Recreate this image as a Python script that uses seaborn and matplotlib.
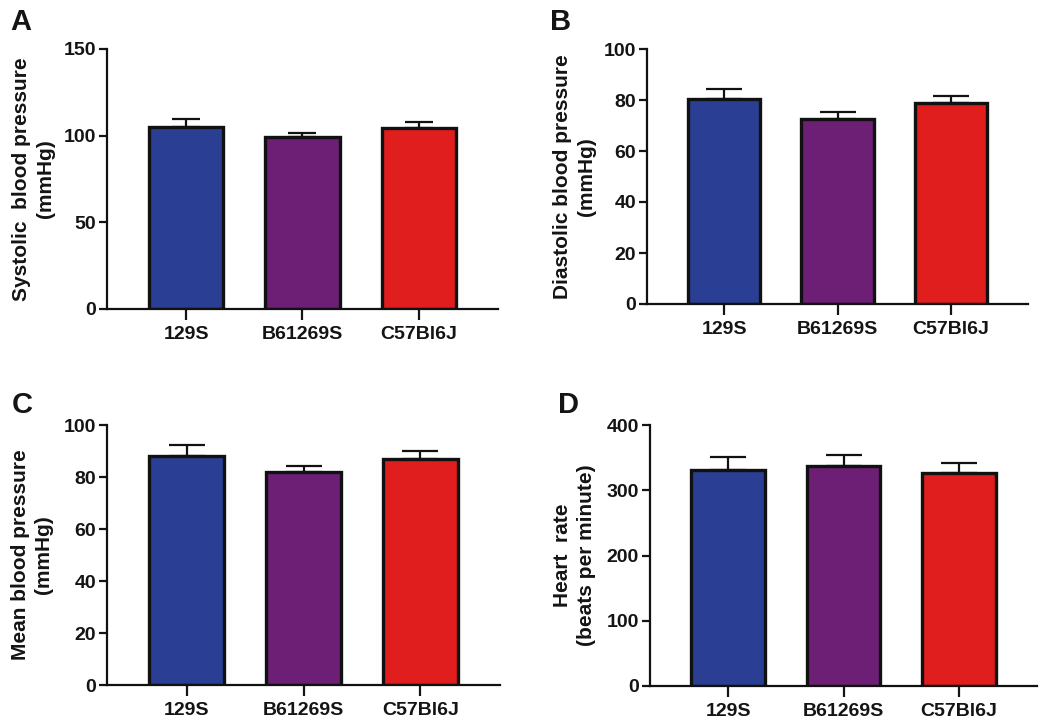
import numpy as np
import matplotlib
matplotlib.use("Agg")
import matplotlib.pyplot as plt
import seaborn as sns

strains = ["129S", "B61269S", "C57Bl6J"]
colors = ["#2A3F93", "#6C1F74", "#E11E1E"]

systolic = [105.0, 99.4, 104.6]
systolic_err = [4.4, 2.3, 3.4]
diastolic = [80.3, 72.7, 78.7]
diastolic_err = [4.0, 2.6, 3.0]
mean_bp = [88.2, 81.8, 87.0]
mean_bp_err = [4.1, 2.4, 3.1]
heart_rate = [331.0, 337.0, 327.0]
heart_rate_err = [20.0, 17.0, 14.0]

panels = [
    ("A", systolic, systolic_err, "Systolic  blood pressure\n(mmHg)", [0, 50, 100, 150], 150,
     [107, 49, 498, 309], (10, 30), -0.133, 10),
    ("B", diastolic, diastolic_err, "Diastolic blood pressure\n(mmHg)", [0, 20, 40, 60, 80, 100], 100,
     [647, 49, 1028, 304], (550, 30), -0.134, 13),
    ("C", mean_bp, mean_bp_err, "Mean blood pressure\n(mmHg)", [0, 20, 40, 60, 80, 100], 100,
     [107, 425, 500, 685], (12, 413), -0.137, 13),
    ("D", heart_rate, heart_rate_err, "Heart  rate\n(beats per minute)", [0, 100, 200, 300, 400], 400,
     [650, 425, 1037, 686], (558, 413), -0.14, 13),
]

sns.set_style("ticks")
plt.rcParams["font.family"] = ["Liberation Sans", "DejaVu Sans"]
plt.rcParams["font.weight"] = "bold"
plt.rcParams["text.color"] = "#141414"
plt.rcParams["axes.labelcolor"] = "#141414"
plt.rcParams["xtick.color"] = "#141414"
plt.rcParams["ytick.color"] = "#141414"

W, H = 1050, 725
fig = plt.figure(figsize=(W / 100, H / 100), dpi=100)

for letter, vals, errs, ylabel, yticks, ymax, box, lpos, lblx, cap in panels:
    x0, y0, x1, y1 = box
    ax = fig.add_axes([x0 / W, 1 - y1 / H, (x1 - x0) / W, (y1 - y0) / H])
    sns.barplot(x=strains, y=vals, hue=strains, palette=colors, legend=False,
                width=0.64, edgecolor="#111111", linewidth=2.4, errorbar=None,
                saturation=1, ax=ax)
    ax.errorbar(np.arange(len(strains)), vals, yerr=[np.zeros(len(errs)), errs],
                fmt="none", ecolor="#111111", elinewidth=1.6, capsize=cap,
                capthick=1.6, zorder=0.5)
    ax.set_xlim(-0.68, 2.68)
    ax.set_ylim(0, ymax)
    ax.set_yticks(yticks)
    ax.set_xlabel("")
    ax.set_ylabel(ylabel, fontsize=15, fontweight="bold", linespacing=1.3)
    ax.yaxis.set_label_coords(lblx, 0.5)
    for s in ["top", "right"]:
        ax.spines[s].set_visible(False)
    for s in ["left", "bottom"]:
        ax.spines[s].set_linewidth(1.6)
        ax.spines[s].set_color("#111111")
    ax.tick_params(axis="y", length=6, width=1.6, labelsize=14, pad=2)
    ax.tick_params(axis="x", length=8, width=1.6, labelsize=14, pad=4)
    for t in ax.get_xticklabels() + ax.get_yticklabels():
        t.set_fontweight("bold")
    fig.text(lpos[0] / W, 1 - lpos[1] / H, letter, fontsize=21, fontweight="bold",
             ha="left", va="baseline")

fig.savefig("out.png", dpi=100)
